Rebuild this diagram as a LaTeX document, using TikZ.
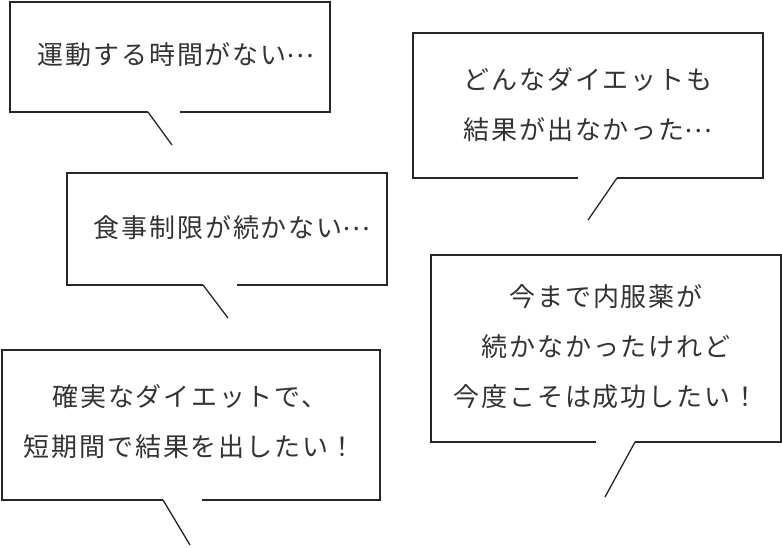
\documentclass[tikz,border=0pt]{standalone}
\usepackage{fontspec}
\setmainfont[LetterSpace=7]{Noto Sans CJK JP}
\newcommand{\mydots}{\raisebox{0.3em}{…}}
\begin{document}
\begin{tikzpicture}[x=1pt,y=-1pt,
  bub/.style={draw=black!85,line width=1.3pt,line join=miter},
  txt/.style={font=\fontsize{26}{50}\selectfont,text=black!80,align=center,inner sep=0}]
\useasboundingbox (0,0) rectangle (782,547);
% box 1
\draw[bub] (148,112) -- (10,112) -- (10,2) -- (330,2) -- (330,112) -- (180,112);
\draw[bub] (148,112) -- (172,145);
\node[txt] (t1) at (176,55) {運動する時間がない\mydots};
% box 2
\draw[bub] (578,178) -- (413,178) -- (413,33) -- (763,33) -- (763,178) -- (617,178);
\draw[bub] (617,178) -- (588,220);
\node[txt] (t2) at (588,105) {どんなダイエットも\\結果が出なかった\mydots};
% box 3
\draw[bub] (203,285) -- (67,285) -- (67,173) -- (387,173) -- (387,285) -- (237,285);
\draw[bub] (203,285) -- (228,318);
\node[txt] (t3) at (232,228) {食事制限が続かない\mydots};
% box 4
\draw[bub] (596,442) -- (431,442) -- (431,255) -- (781,255) -- (781,442) -- (635,442);
\draw[bub] (635,442) -- (605,497);
\node[txt] (t4) at (606,347) {今まで内服薬が\\続かなかったけれど\\今度こそは成功したい！};
% box 5
\draw[bub] (163,500) -- (2,500) -- (2,350) -- (380,350) -- (380,500) -- (202,500);
\draw[bub] (163,500) -- (190,545);
\node[txt] (t5) at (190,422) {確実なダイエットで、\\短期間で結果を出したい！};
\end{tikzpicture}
\end{document}
